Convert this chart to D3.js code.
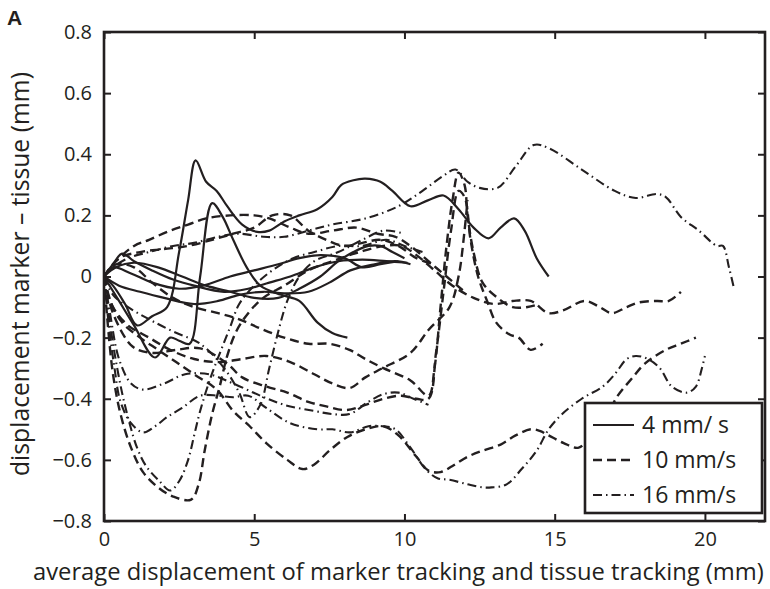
<!DOCTYPE html>
<html>
<head>
<meta charset="utf-8">
<script src="https://cdn.jsdelivr.net/npm/d3@7"></script>
<style>
  body { margin: 0; background: #fff; }
  svg { display: block; }
  text { font-family: "Open Sans", "DejaVu Sans", sans-serif; fill: #231f20; }
</style>
</head>
<body>
<svg id="chart" width="770" height="589"></svg>
<script>
// ---- axes ----
const xDomain = [0, 22];
const yDomain = [-0.8, 0.8];
const xTicks = [0, 5, 10, 15, 20];
const xTickLabels = ["0", "5", "10", "15", "20"];
const yTicks = [-0.8, -0.6, -0.4, -0.2, 0, 0.2, 0.4, 0.6, 0.8];
const yTickLabels = ["\u22120.8", "\u22120.6", "\u22120.4", "\u22120.2", "0", "0.2", "0.4", "0.6", "0.8"];
const xTitle = "average displacement of marker tracking and tissue tracking (mm)";
const yTitle = "displacement marker \u2013 tissue (mm)";
const panelLabel = "A";
const legendLabels = ["4 mm/ s", "10 mm/s", "16 mm/s"];

// ---- 4 mm/s trials (solid) : [avg displacement, marker - tissue] ----
const s4a = [[0,0],[0.3,-0.03],[0.7,-0.09],[1.1,-0.16],[1.6,-0.13],[2.1,-0.1],[2.5,0.08],[2.8,0.25],[3.05,0.38],[3.4,0.31],[3.75,0.28],[4.1,0.23],[4.6,0.17],[5.1,0.146],[5.5,0.15],[6,0.18],[6.5,0.2],[7.1,0.22],[7.6,0.26],[7.9,0.3],[8.3,0.315],[8.7,0.32],[9.2,0.31],[9.6,0.28],[10.2,0.23],[10.8,0.25],[11.3,0.265],[11.8,0.22],[12.3,0.16],[12.8,0.125],[13.2,0.16],[13.65,0.19],[14.0,0.15],[14.4,0.06],[14.8,0.0]];
const s4b = [[0,0],[0.5,-0.08],[1.0,-0.16],[1.7,-0.265],[2.2,-0.2],[2.5,-0.21],[2.85,-0.22],[3.2,0.0],[3.6,0.24],[3.95,0.195],[4.3,0.12],[4.75,0.03],[5.2,-0.03],[5.9,-0.06],[6.5,-0.08],[7.1,-0.15],[7.6,-0.185],[8.1,-0.2]];
const s4c = [[0,0],[0.3,0.04],[0.6,0.075],[1.0,0.05],[1.6,0.02],[2.3,-0.01],[3,-0.03],[4,-0.05],[4.8,-0.04],[5.5,-0.02],[6.2,0.0],[7,0.03],[7.8,0.05],[8.6,0.055],[9.4,0.05],[10.1,0.045]];
const s4d = [[0,0],[0.4,0.03],[1,0.045],[1.8,0.03],[2.6,0.0],[3.4,-0.03],[4.2,-0.05],[5,-0.07],[5.8,-0.07],[6.5,-0.04],[7.2,0.0],[7.8,0.05],[8.3,0.08],[8.8,0.1],[9.2,0.1],[9.6,0.08],[10.0,0.06]];
const s4e = [[0,0],[0.5,-0.03],[1.2,-0.05],[2,-0.07],[3,-0.09],[3.8,-0.08],[4.5,-0.06],[5.3,-0.05],[6,-0.055],[6.8,-0.05],[7.5,-0.02],[8.2,0.02],[9,0.04],[9.7,0.05],[10.2,0.04]];
const s4f = [[0,0],[0.3,0.03],[0.9,0.01],[1.6,-0.02],[2.5,-0.04],[3.3,-0.03],[4.2,0.0],[5,0.02],[5.8,0.04],[6.5,0.06],[7.2,0.07],[8,0.06],[8.6,0.03],[9.2,0.04],[9.8,0.05]];

// ---- 10 mm/s trials (dashed) ----
const d10a = [[0,0],[0.12,-0.15],[0.3,-0.32],[0.55,-0.45],[0.9,-0.56],[1.3,-0.64],[1.8,-0.69],[2.3,-0.72],[2.9,-0.73],[3.15,-0.68],[3.35,-0.57],[3.6,-0.45],[3.85,-0.36],[4.1,-0.26],[4.4,-0.18],[4.8,-0.12],[5.3,-0.07],[6,-0.03],[6.8,0.02],[7.6,0.05],[8.5,0.08],[9.3,0.1],[9.9,0.1],[10.4,0.07],[11,0.02],[11.6,-0.03],[12.3,-0.07],[13,-0.09],[13.6,-0.08],[14.2,-0.08],[14.8,-0.12],[15.3,-0.11],[16,-0.08],[16.5,-0.1],[16.9,-0.12],[17.4,-0.1],[17.8,-0.085],[18.4,-0.08],[18.8,-0.08],[19.2,-0.05]];
const d10b = [[0,0],[0.2,-0.08],[0.6,-0.15],[1.2,-0.2],[1.8,-0.24],[2.4,-0.28],[3.0,-0.32],[3.75,-0.37],[4.3,-0.44],[4.85,-0.49],[5.4,-0.545],[6.1,-0.6],[6.6,-0.63],[7.0,-0.615],[7.5,-0.57],[8.1,-0.525],[8.7,-0.5],[9.3,-0.49],[9.8,-0.52],[10.4,-0.59],[10.8,-0.635],[11.2,-0.64],[11.6,-0.62],[12.1,-0.59],[12.6,-0.57],[13.2,-0.55],[13.7,-0.52],[14.2,-0.5],[14.5,-0.505],[14.8,-0.52],[15.3,-0.545],[15.8,-0.56],[16.2,-0.52],[16.7,-0.46],[17.1,-0.39],[17.6,-0.33],[18.0,-0.285],[18.7,-0.24],[19.2,-0.22],[19.7,-0.2]];
const d10c = [[0,0],[0.3,-0.12],[0.96,-0.23],[1.6,-0.25],[2.4,-0.24],[3.2,-0.235],[4.1,-0.285],[4.6,-0.33],[5.4,-0.36],[6.1,-0.38],[6.8,-0.41],[7.4,-0.425],[8.07,-0.437],[8.7,-0.42],[9.3,-0.4],[9.9,-0.39],[10.4,-0.4],[10.8,-0.4],[11.05,-0.25],[11.3,-0.05],[11.55,0.15],[11.8,0.28],[12.0,0.26],[12.2,0.12],[12.45,0.0],[12.75,-0.08],[13.05,-0.15],[13.5,-0.19],[13.8,-0.2],[14.2,-0.24],[14.6,-0.22]];
const d10d = [[0,0],[0.4,0.04],[1,0.03],[1.6,-0.02],[2.3,-0.07],[3,-0.1],[3.8,-0.12],[4.5,-0.14],[5.2,-0.17],[6,-0.2],[6.8,-0.22],[7.5,-0.22],[8.17,-0.24],[8.7,-0.27],[9.3,-0.3],[10.2,-0.34],[10.8,-0.39],[11.0,-0.3],[11.2,-0.1],[11.4,0.1],[11.6,0.25],[11.8,0.34],[12.0,0.3],[12.1,0.2],[12.3,0.08],[12.6,-0.02],[13.1,-0.07],[13.6,-0.1],[14.1,-0.1],[14.5,-0.09]];
const d10e = [[0,0],[0.3,-0.1],[0.8,-0.16],[1.5,-0.2],[2.2,-0.24],[3,-0.27],[3.8,-0.28],[4.6,-0.27],[5.4,-0.26],[6.2,-0.28],[7,-0.32],[7.6,-0.35],[8.17,-0.365],[8.7,-0.33],[9.27,-0.3],[10.2,-0.25],[10.8,-0.175],[11.5,-0.1],[11.8,0.0],[12.0,0.15],[12.1,0.25]];
const d10f = [[0,0],[0.4,0.05],[1,0.1],[1.5,0.12],[2.2,0.15],[2.8,0.17],[3.4,0.19],[4.2,0.2],[5,0.2],[5.5,0.19],[6.2,0.16],[6.8,0.14],[7.6,0.15],[8.4,0.16],[9.1,0.14],[9.7,0.13],[10.2,0.1],[10.8,0.05],[11.4,0.0],[12.0,-0.05]];
const d10g = [[0,0],[0.5,0.06],[1.2,0.08],[2,0.09],[2.8,0.1],[3.6,0.12],[4.3,0.14],[5,0.16],[5.6,0.2],[6.2,0.2],[6.8,0.15],[7.4,0.12],[8,0.1],[8.6,0.11],[9.2,0.12],[9.8,0.1],[10.4,0.06],[11,0.04]];

// ---- 16 mm/s trials (dash-dot) ----
const dd16a = [[0,0],[0.3,0.03],[0.8,0.06],[1.5,0.08],[2.3,0.1],[3,0.11],[3.8,0.13],[4.5,0.14],[5.3,0.13],[6,0.13],[6.8,0.15],[7.6,0.17],[8.7,0.19],[9.8,0.23],[10.6,0.28],[11.3,0.33],[11.7,0.35],[12.1,0.31],[12.5,0.29],[13.1,0.29],[13.7,0.36],[14.3,0.43],[14.8,0.42],[15.9,0.35],[17,0.28],[17.7,0.257],[18.4,0.27],[18.7,0.26],[19.2,0.195],[19.8,0.15],[20.4,0.1],[20.6,0.1],[20.8,0.03],[20.96,-0.035]];
const dd16b = [[0,0],[0.15,-0.12],[0.35,-0.25],[0.6,-0.38],[0.85,-0.48],[1.1,-0.56],[1.4,-0.62],[1.85,-0.67],[2.2,-0.7],[2.5,-0.67],[2.8,-0.6],[3.0,-0.52],[3.2,-0.44],[3.55,-0.33],[3.9,-0.24],[4.2,-0.165],[4.5,-0.09],[5,-0.03],[5.6,0.02],[6.3,0.06],[7,0.08],[7.8,0.1],[8.6,0.1],[9.4,0.12],[10,0.1],[10.6,0.08]];
const dd16c = [[0,0],[0.15,-0.15],[0.35,-0.3],[0.55,-0.41],[0.9,-0.48],[1.3,-0.51],[1.7,-0.49],[2.1,-0.46],[2.6,-0.43],[3.2,-0.39],[3.8,-0.39],[4.3,-0.395],[4.8,-0.39],[5.4,-0.43],[6.2,-0.48],[7.1,-0.5],[7.6,-0.5],[8.2,-0.51],[8.8,-0.49],[9.3,-0.49],[9.7,-0.5],[10.2,-0.56],[10.7,-0.63],[11.1,-0.66],[11.5,-0.665],[12.1,-0.68],[12.6,-0.69],[12.9,-0.69],[13.4,-0.68],[13.9,-0.63],[14.4,-0.57],[14.8,-0.5],[15.25,-0.45],[15.9,-0.4],[16.6,-0.36],[17,-0.32],[17.4,-0.27],[17.7,-0.26],[18.1,-0.27],[18.5,-0.3],[18.9,-0.36],[19.4,-0.38],[19.7,-0.36],[19.9,-0.3],[20.0,-0.26]];
const dd16d = [[0,0],[0.2,-0.12],[0.5,-0.27],[0.9,-0.35],[1.3,-0.37],[2,-0.35],[2.7,-0.32],[3.5,-0.32],[4.3,-0.35],[5.2,-0.39],[6,-0.42],[7,-0.44],[7.6,-0.45],[8.17,-0.45],[8.8,-0.41],[9.3,-0.385],[9.8,-0.38],[10.3,-0.4],[10.8,-0.42]];
const dd16e = [[0,0],[0.3,-0.06],[0.8,-0.1],[1.5,-0.14],[2.3,-0.18],[3.2,-0.22],[4,-0.3],[4.5,-0.38],[4.85,-0.46],[5.2,-0.42],[5.5,-0.3],[5.8,-0.18],[6.1,-0.08],[6.5,0.0],[7,0.05],[7.8,0.08],[8.6,0.12],[9.3,0.15],[10,0.14]];

const groups = [
  { label: legendLabels[0], dash: null,          width: 2.2, trials: [s4a, s4b, s4c, s4d, s4e, s4f] },
  { label: legendLabels[1], dash: "9,5",         width: 2.4, trials: [d10a, d10b, d10c, d10d, d10e, d10f, d10g] },
  { label: legendLabels[2], dash: "9,4,1.5,4",   width: 2.1, trials: [dd16a, dd16b, dd16c, dd16d, dd16e] }
];

// ---- layout ----
const plot = { left: 104, right: 765, top: 32, bottom: 521 };
const svg = d3.select("#chart");
const x = d3.scaleLinear().domain(xDomain).range([plot.left, plot.right]);
const y = d3.scaleLinear().domain(yDomain).range([plot.bottom, plot.top]);
const ink = "#231f20";

svg.append("defs").append("clipPath").attr("id", "plotClip")
  .append("rect").attr("x", plot.left).attr("y", plot.top)
  .attr("width", plot.right - plot.left).attr("height", plot.bottom - plot.top);

// trial curves
const line = d3.line().x(d => x(d[0])).y(d => y(d[1])).curve(d3.curveCatmullRom.alpha(0.5));
const curves = svg.append("g").attr("clip-path", "url(#plotClip)");
groups.slice().reverse().forEach(g => {
  curves.selectAll(null).data(g.trials).join("path")
    .attr("d", line)
    .attr("fill", "none")
    .attr("stroke", ink)
    .attr("stroke-width", g.width)
    .attr("stroke-linejoin", "round")
    .attr("stroke-dasharray", g.dash);
});

// axes with inward ticks on all four sides
const tick = 7;
const axB = d3.axisBottom(x).tickValues(xTicks).tickFormat((d, i) => xTickLabels[i]).tickSizeInner(-tick).tickSizeOuter(0).tickPadding(11);
const axT = d3.axisTop(x).tickValues(xTicks).tickFormat("").tickSizeInner(-tick).tickSizeOuter(0);
const axL = d3.axisLeft(y).tickValues(yTicks).tickFormat((d, i) => yTickLabels[i]).tickSizeInner(-tick).tickSizeOuter(0).tickPadding(12);
const axR = d3.axisRight(y).tickValues(yTicks).tickFormat("").tickSizeInner(-tick).tickSizeOuter(0);

function styleAxis(sel) {
  sel.select(".domain").remove();
  sel.selectAll(".tick line").attr("stroke", ink).attr("stroke-width", 2);
  sel.selectAll(".tick text").attr("fill", ink).style("font-size", "20px").style("font-family", "'Open Sans', sans-serif");
}
svg.append("g").attr("transform", `translate(0,${plot.bottom})`).call(axB).call(styleAxis);
svg.append("g").attr("transform", `translate(0,${plot.top})`).call(axT).call(styleAxis);
svg.append("g").attr("transform", `translate(${plot.left},0)`).call(axL).call(styleAxis);
svg.append("g").attr("transform", `translate(${plot.right},0)`).call(axR).call(styleAxis);

svg.append("rect")
  .attr("x", plot.left).attr("y", plot.top)
  .attr("width", plot.right - plot.left).attr("height", plot.bottom - plot.top)
  .attr("fill", "none").attr("stroke", ink).attr("stroke-width", 2.6);

// fit a text element to a given width by adjusting font size
function fitText(sel, width) {
  const w = sel.node().getComputedTextLength();
  const fs = parseFloat(sel.style("font-size"));
  sel.style("font-size", (fs * width / w).toFixed(2) + "px");
}

// axis titles
const xt = svg.append("text").attr("x", 33).attr("y", 580).style("font-size", "20px").text(xTitle);
fitText(xt, 731);
const yt = svg.append("text").attr("transform", "translate(29,476) rotate(-90)").style("font-size", "20px").text(yTitle);
fitText(yt, 404);

svg.append("text").attr("x", 7).attr("y", 25).style("font-size", "21px").style("font-weight", "bold")
  .style("font-family", "'Liberation Sans', Arial, sans-serif").text(panelLabel);

// legend
const lg = { left: 585, top: 403, right: 762, bottom: 513 };
const leg = svg.append("g");
leg.append("rect").attr("x", lg.left).attr("y", lg.top)
  .attr("width", lg.right - lg.left).attr("height", lg.bottom - lg.top)
  .attr("fill", "#fff").attr("stroke", ink).attr("stroke-width", 2.6);
const rowY = d3.scalePoint().domain(groups.map(g => g.label)).range([425, 495]);
const rows = leg.selectAll("g.row").data(groups).join("g").attr("class", "row")
  .attr("transform", g => `translate(0,${rowY(g.label)})`);
rows.append("line").attr("x1", 593).attr("x2", 634).attr("y1", 0).attr("y2", 0)
  .attr("stroke", ink).attr("stroke-width", g => g.width).attr("stroke-dasharray", g => g.dash);
rows.append("text").attr("x", 642).attr("dy", "0.35em").style("font-size", "23px").text(g => g.label);
</script>
</body>
</html>
